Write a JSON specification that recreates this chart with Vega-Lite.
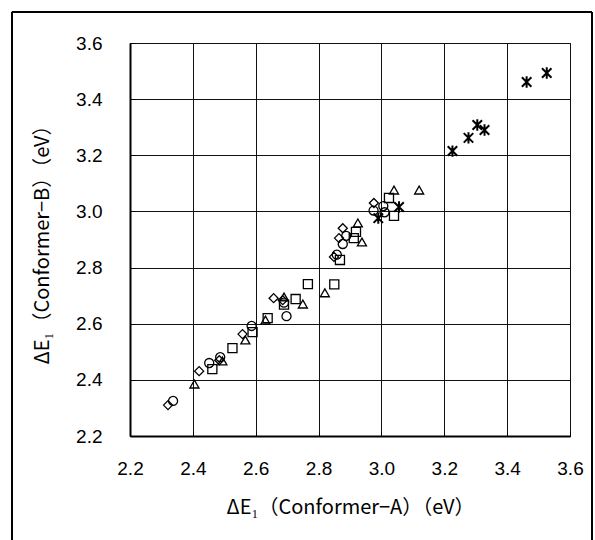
{
  "$schema": "https://vega.github.io/schema/vega-lite/v6.json",
  "autosize": {"type": "none"},
  "width": 440,
  "height": 393,
  "padding": {"left": 130, "top": 43, "right": 25, "bottom": 104},
  "background": "white",
  "config": {
    "view": {"stroke": "#111", "strokeWidth": 1},
    "axis": {"labelFont": "Liberation Sans", "labelFontSize": 19, "labelColor": "#000", "titleFont": "Noto Sans CJK JP", "titleFontSize": 20, "titleFontWeight": "normal", "titleColor": "#000"}
  },
  "data": {"values": [
    {"a": 2.337, "b": 2.325, "s": "circle"},
    {"a": 2.452, "b": 2.46, "s": "circle"},
    {"a": 2.487, "b": 2.481, "s": "circle"},
    {"a": 2.587, "b": 2.592, "s": "circle"},
    {"a": 2.698, "b": 2.627, "s": "circle"},
    {"a": 2.69, "b": 2.675, "s": "circle"},
    {"a": 2.858, "b": 2.846, "s": "circle"},
    {"a": 2.877, "b": 2.884, "s": "circle"},
    {"a": 2.888, "b": 2.913, "s": "circle"},
    {"a": 2.975, "b": 3.003, "s": "circle"},
    {"a": 3.006, "b": 3.019, "s": "circle"},
    {"a": 3.01, "b": 2.997, "s": "circle"},
    {"a": 2.321, "b": 2.31, "s": "diamond"},
    {"a": 2.42, "b": 2.431, "s": "diamond"},
    {"a": 2.484, "b": 2.47, "s": "diamond"},
    {"a": 2.558, "b": 2.563, "s": "diamond"},
    {"a": 2.657, "b": 2.691, "s": "diamond"},
    {"a": 2.686, "b": 2.684, "s": "diamond"},
    {"a": 2.849, "b": 2.838, "s": "diamond"},
    {"a": 2.865, "b": 2.905, "s": "diamond"},
    {"a": 2.877, "b": 2.94, "s": "diamond"},
    {"a": 2.976, "b": 3.03, "s": "diamond"},
    {"a": 2.462, "b": 2.438, "s": "square"},
    {"a": 2.526, "b": 2.513, "s": "square"},
    {"a": 2.59, "b": 2.57, "s": "square"},
    {"a": 2.638, "b": 2.62, "s": "square"},
    {"a": 2.69, "b": 2.668, "s": "square"},
    {"a": 2.727, "b": 2.688, "s": "square"},
    {"a": 2.766, "b": 2.741, "s": "square"},
    {"a": 2.85, "b": 2.74, "s": "square"},
    {"a": 2.868, "b": 2.827, "s": "square"},
    {"a": 2.912, "b": 2.905, "s": "square"},
    {"a": 2.919, "b": 2.927, "s": "square"},
    {"a": 3.024, "b": 3.048, "s": "square"},
    {"a": 3.04, "b": 2.984, "s": "square"},
    {"a": 2.405, "b": 2.385, "s": "triangle"},
    {"a": 2.494, "b": 2.467, "s": "triangle"},
    {"a": 2.567, "b": 2.542, "s": "triangle"},
    {"a": 2.631, "b": 2.613, "s": "triangle"},
    {"a": 2.69, "b": 2.695, "s": "triangle"},
    {"a": 2.75, "b": 2.67, "s": "triangle"},
    {"a": 2.82, "b": 2.71, "s": "triangle"},
    {"a": 2.925, "b": 2.959, "s": "triangle"},
    {"a": 2.938, "b": 2.891, "s": "triangle"},
    {"a": 3.04, "b": 3.076, "s": "triangle"},
    {"a": 3.12, "b": 3.076, "s": "triangle"},
    {"a": 2.99, "b": 2.976, "s": "star"},
    {"a": 3.056, "b": 3.016, "s": "star"},
    {"a": 3.226, "b": 3.215, "s": "star"},
    {"a": 3.277, "b": 3.262, "s": "star"},
    {"a": 3.305, "b": 3.308, "s": "star"},
    {"a": 3.328, "b": 3.29, "s": "star"},
    {"a": 3.462, "b": 3.461, "s": "star"},
    {"a": 3.526, "b": 3.493, "s": "star"}
  ]},
  "layer": [
    {
      "mark": {"type": "rect", "fill": null, "stroke": "#000", "strokeWidth": 1, "clip": false},
      "encoding": {
        "x": {"datum": 1.8245, "type": "quantitative", "scale": {"domain": [2.2, 3.6]}},
        "x2": {"datum": 3.67},
        "y": {"datum": 3.7104, "type": "quantitative", "scale": {"domain": [2.2, 3.6]}},
        "y2": {"datum": 1.826}
      }
    },
    {
      "transform": [{"filter": "datum.s !== 'star'"}],
      "mark": {"type": "point", "filled": false, "stroke": "#000", "strokeWidth": 1.3, "size": 82, "opacity": 1},
      "encoding": {
        "x": {"field": "a", "type": "quantitative", "scale": {"domain": [2.2, 3.6], "nice": false, "zero": false},
          "axis": {"title": "ΔE₁（Conformer−A）（eV）", "values": [2.2, 2.25, 2.3, 2.35, 2.4, 2.45, 2.5, 2.55, 2.6, 2.65, 2.7, 2.75, 2.8, 2.85, 2.9, 2.95, 3.0, 3.05, 3.1, 3.15, 3.2, 3.25, 3.3, 3.35, 3.4, 3.45, 3.5, 3.55, 3.6],
            "labelExpr": "abs(datum.value*5 - round(datum.value*5)) < 0.001 ? format(datum.value, '.1f') : ''",
            "grid": true, "gridColor": "#111", "gridWidth": 1,
            "gridOpacity": {"condition": {"test": "abs(datum.value*5 - round(datum.value*5)) < 0.001", "value": 1}, "value": 0},
            "ticks": true, "tickSize": -5, "tickColor": "#000", "tickWidth": 1,
            "domainColor": "#000", "domainWidth": 2, "labelPadding": 28, "labelFlush": false, "labelOverlap": false, "titlePadding": 19}},
        "y": {"field": "b", "type": "quantitative", "scale": {"domain": [2.2, 3.6], "nice": false, "zero": false},
          "axis": {"title": "ΔE₁（Conformer−B）（eV）", "values": [2.2, 2.25, 2.3, 2.35, 2.4, 2.45, 2.5, 2.55, 2.6, 2.65, 2.7, 2.75, 2.8, 2.85, 2.9, 2.95, 3.0, 3.05, 3.1, 3.15, 3.2, 3.25, 3.3, 3.35, 3.4, 3.45, 3.5, 3.55, 3.6],
            "labelExpr": "abs(datum.value*5 - round(datum.value*5)) < 0.001 ? format(datum.value, '.1f') : ''",
            "grid": true, "gridColor": "#111", "gridWidth": 1,
            "gridOpacity": {"condition": {"test": "abs(datum.value*5 - round(datum.value*5)) < 0.001", "value": 1}, "value": 0},
            "ticks": true, "tickSize": -5, "tickColor": "#000", "tickWidth": 1,
            "domainColor": "#000", "domainWidth": 2, "labelPadding": 33, "labelFlush": false, "labelOverlap": false, "titlePadding": 23}},
        "shape": {"field": "s", "type": "nominal", "legend": null,
          "scale": {"domain": ["circle", "diamond", "square", "triangle", "star"], "range": ["circle", "diamond", "square", "triangle-up", "M-1,-1L1,1M-1,1L1,-1M0,-1.2L0,1.2"]}}
      }
    },
    {
      "transform": [{"filter": "datum.s === 'star'"}],
      "mark": {"type": "point", "filled": false, "stroke": "#000", "strokeWidth": 2, "size": 90, "opacity": 1},
      "encoding": {
        "x": {"field": "a", "type": "quantitative"},
        "y": {"field": "b", "type": "quantitative"},
        "shape": {"field": "s", "type": "nominal", "legend": null}
      }
    }
  ]
}
